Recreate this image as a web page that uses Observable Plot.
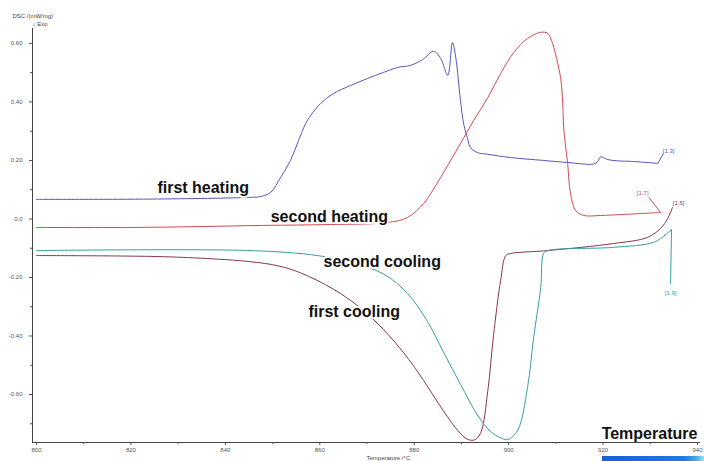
<!DOCTYPE html>
<html>
<head>
<meta charset="utf-8">
<script src="https://cdn.jsdelivr.net/npm/d3@7"></script>
<script src="https://cdn.jsdelivr.net/npm/@observablehq/plot@0.6"></script>
<style>
html,body{margin:0;padding:0;background:#fff;overflow:hidden;}
#chart{position:relative;width:704px;height:461px;}
#bar{position:absolute;left:602px;top:456px;width:102px;height:5px;
  background:linear-gradient(to right,#1a5ed6 0%,#2278e0 80%,#4aa6e6 92%,#9fe0e8 100%);}
</style>
</head>
<body>
<div id="chart"></div>
<script>
// ---- Data (temperature in °C, DSC signal in mW/mg) ----
const seriesNames  = ["first heating", "second heating", "first cooling", "second cooling"];
const seriesColors = ["#5656bb", "#d24a52", "#8a3548", "#3a9e9e"];

const firstHeatingT = [800,824.2,845.3,847.5,849.6,851.7,853.8,855.5,857.0,858.1,860.2,862.9,866.5,870.1,873.5,876.5,879.2,881.8,884.1,885.6,887.1,888.1,888.8,889.8,890.5,891.3,891.9,893.4,895.6,900.4,907.4,912.5,918.0,918.9,919.5,921.0,923.7,925.8,931.6];
const firstHeatingV = [0.067,0.068,0.074,0.077,0.091,0.142,0.200,0.268,0.326,0.354,0.395,0.429,0.456,0.480,0.501,0.518,0.525,0.545,0.573,0.549,0.491,0.603,0.552,0.405,0.323,0.275,0.244,0.227,0.221,0.210,0.200,0.193,0.188,0.197,0.212,0.203,0.198,0.197,0.190];

const secondHeatingT = [800,819.9,834.7,848.1,862.3,874.4,878.6,882.0,883.5,885.6,889.8,892.6,895.6,898.3,901.1,904.0,906.8,908.3,909.3,910.4,911.0,911.4,911.7,912.5,913.1,914.2,915.9,919.5,923.7,932.2];
const secondHeatingV = [-0.029,-0.029,-0.026,-0.022,-0.019,-0.012,0.005,0.053,0.087,0.142,0.258,0.337,0.415,0.497,0.569,0.617,0.638,0.634,0.600,0.532,0.484,0.415,0.303,0.190,0.087,0.029,0.012,0.012,0.015,0.022];

const firstCoolingT = [800,824.2,834.7,845.3,851.1,855.9,862.9,868.6,873.5,877.8,882.0,885.6,889.2,891.3,892.8,894.1,895.6,896.8,898.3,899.4,900.4,908.3,922.2,929.4,932.2,933.7,934.7];
const firstCoolingV = [-0.125,-0.128,-0.134,-0.146,-0.160,-0.184,-0.240,-0.304,-0.378,-0.458,-0.552,-0.642,-0.722,-0.753,-0.755,-0.730,-0.586,-0.398,-0.211,-0.125,-0.118,-0.108,-0.084,-0.063,-0.032,0.002,0.039];

const secondCoolingT = [800,845.3,859.5,866.5,873.5,878.6,882.8,886.2,889.8,893.4,896.2,898.3,899.8,901.9,904.0,905.3,906.8,907.4,908.3,922.2,930.7,933.3,934.5];
const secondCoolingV = [-0.108,-0.108,-0.125,-0.149,-0.188,-0.255,-0.350,-0.455,-0.565,-0.670,-0.727,-0.748,-0.754,-0.723,-0.576,-0.405,-0.234,-0.118,-0.108,-0.097,-0.080,-0.053,-0.036];

// end-of-curve markers
const endLabels   = ["[1.3]", "[1.7]", "[1.5]", "[1.9]"];
const endSeries   = ["first heating", "second heating", "first cooling", "second cooling"];
const endLabelT   = [933.9, 928.4, 936.0, 934.3];
const endLabelV   = [0.232, 0.088, 0.053, -0.255];
const leaderSeries = ["first heating", "second heating", "second cooling"];
const leaderT1 = [931.6, 932.2, 934.5];
const leaderV1 = [0.190, 0.022, -0.036];
const leaderT2 = [932.8, 929.7, 934.3];
const leaderV2 = [0.224, 0.074, -0.221];

// in-plot curve annotations
const curveLabels = ["first heating", "second heating", "second cooling", "first cooling"];
const curveLabelT = [825.6, 849.6, 860.8, 857.6];
const curveLabelV = [0.106, 0.007, -0.147, -0.318];

// ticks
const xTicks = [800, 820, 840, 860, 880, 900, 920, 940];
const xMinorTicks = [810, 830, 850, 870, 890, 910, 930];
const yTicks = [-0.6, -0.4, -0.2, 0, 0.2, 0.4, 0.6];
const yTickLabels = ["-0.60", "-0.40", "-0.20", "0.0", "0.20", "0.40", "0.60"];
const yMinorTicks = [-0.7, -0.5, -0.3, -0.1, 0.1, 0.3, 0.5];

const xDomain = [799.15, 940.64];
const yDomain = [-0.764, 0.651];

// ---- Build tables ----
const seriesData = [
  [firstHeatingT, firstHeatingV],
  [secondHeatingT, secondHeatingV],
  [firstCoolingT, firstCoolingV],
  [secondCoolingT, secondCoolingV]
];
const rows = seriesData.flatMap(([T, V], k) => T.map((t, i) => ({series: seriesNames[k], t, v: V[i]})));
const endRows = endLabels.map((label, i) => ({label, series: endSeries[i], t: endLabelT[i], v: endLabelV[i]}));
const leaderRows = leaderSeries.map((s, i) => ({series: s, t1: leaderT1[i], v1: leaderV1[i], t2: leaderT2[i], v2: leaderV2[i]}));
const curveLabelRows = curveLabels.map((label, i) => ({label, t: curveLabelT[i], v: curveLabelV[i]}));

const font = "'Liberation Sans', Arial, Helvetica, sans-serif";
const axisColor = "#555";

const chart = Plot.plot({
  width: 704,
  height: 461,
  marginLeft: 32,
  marginRight: 4,
  marginTop: 28,
  marginBottom: 19,
  x: {domain: xDomain},
  y: {domain: yDomain},
  color: {domain: seriesNames, range: seriesColors},
  style: {fontFamily: font, background: "#fff", overflow: "visible"},
  marks: [
    Plot.ruleX([xDomain[0]], {stroke: "#444", strokeWidth: 1}),
    Plot.ruleY([yDomain[0]], {stroke: "#444", strokeWidth: 1}),
    Plot.axisX({ticks: xTicks, tickSize: 3, tickPadding: 2, fontSize: 6, color: axisColor}),
    Plot.axisX({ticks: xMinorTicks, tickSize: 2, tickFormat: () => "", color: axisColor}),
    Plot.axisY({ticks: yTicks, tickSize: 3, tickPadding: 7, fontSize: 6, color: axisColor,
      tickFormat: d => yTickLabels[yTicks.findIndex(y => Math.abs(y - d) < 1e-9)]}),
    Plot.axisY({ticks: yMinorTicks, tickSize: 2, tickFormat: () => "", color: axisColor}),
    Plot.line(rows, {x: "t", y: "v", z: "series", stroke: "series", strokeWidth: 1, curve: "catmull-rom"}),
    Plot.link(leaderRows, {x1: "t1", y1: "v1", x2: "t2", y2: "v2", stroke: "series", strokeWidth: 1}),
    Plot.text(endRows, {x: "t", y: "v", text: "label", fill: "series", fontSize: 6, textAnchor: "middle"}),
    Plot.text(curveLabelRows, {x: "t", y: "v", text: "label", textAnchor: "start", fontSize: 16,
      fontWeight: "bold", fill: "#111", stroke: "white", strokeWidth: 4, paintOrder: "stroke"}),
    Plot.text(["Temperature"], {x: 919.7, y: -0.735, textAnchor: "start", fontSize: 16, fontWeight: "bold", fill: "#111"}),
    Plot.text(["Temperature /°C"], {x: 869.9, y: -0.818, textAnchor: "start", fontSize: 6, fill: "#444"}),
    Plot.text(["DSC /(mW/mg)"], {x: 794.9, y: 0.693, textAnchor: "start", fontSize: 6, fill: "#444"}),
    Plot.text(["↓ Exo"], {x: 799.15, y: 0.665, textAnchor: "start", fontSize: 6, fill: "#444"})
  ]
});

const container = document.getElementById("chart");
container.appendChild(chart);
const bar = document.createElement("div");
bar.id = "bar";
container.appendChild(bar);
</script>
</body>
</html>
